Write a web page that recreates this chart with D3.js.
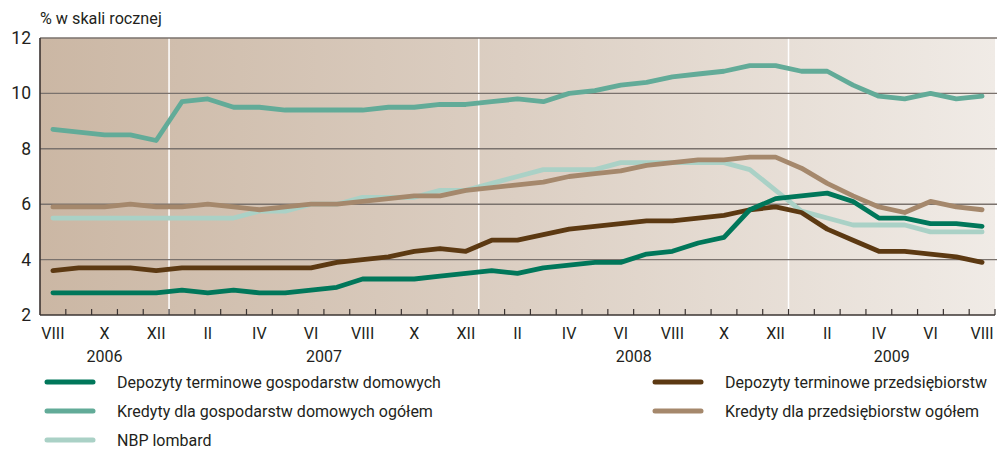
<!DOCTYPE html>
<html><head><meta charset="utf-8">
<script src="https://cdn.jsdelivr.net/npm/d3@7"></script>
<style>
body{margin:0;background:#fff;}
text{font-family:Roboto,"Open Sans",sans-serif;fill:#231f20;}
</style></head>
<body><svg id="c" width="998" height="449"></svg>
<script>
const months = ["VIII","IX","X","XI","XII",
 "I","II","III","IV","V","VI","VII","VIII","IX","X","XI","XII",
 "I","II","III","IV","V","VI","VII","VIII","IX","X","XI","XII",
 "I","II","III","IV","V","VI","VII","VIII"];
const years = [{label:"2006",from:0,to:4},{label:"2007",from:5,to:16},{label:"2008",from:17,to:28},{label:"2009",from:29,to:36}];
const yTicks = [2,4,6,8,10,12];

const depGosp = [2.8,2.8,2.8,2.8,2.8, 2.9,2.8,2.9,2.8,2.8,2.9,3.0,3.3,3.3,3.3,3.4,3.5, 3.6,3.5,3.7,3.8,3.9,3.9,4.2,4.3,4.6,4.8,5.8,6.2, 6.3,6.4,6.1,5.5,5.5,5.3,5.3,5.2];
const kredGosp = [8.7,8.6,8.5,8.5,8.3, 9.7,9.8,9.5,9.5,9.4,9.4,9.4,9.4,9.5,9.5,9.6,9.6, 9.7,9.8,9.7,10.0,10.1,10.3,10.4,10.6,10.7,10.8,11.0,11.0, 10.8,10.8,10.3,9.9,9.8,10.0,9.8,9.9];
const lombard = [5.5,5.5,5.5,5.5,5.5, 5.5,5.5,5.5,5.75,5.75,6.0,6.0,6.25,6.25,6.25,6.5,6.5, 6.75,7.0,7.25,7.25,7.25,7.5,7.5,7.5,7.5,7.5,7.25,6.5, 5.75,5.5,5.25,5.25,5.25,5.0,5.0,5.0];
const depPrz = [3.6,3.7,3.7,3.7,3.6, 3.7,3.7,3.7,3.7,3.7,3.7,3.9,4.0,4.1,4.3,4.4,4.3, 4.7,4.7,4.9,5.1,5.2,5.3,5.4,5.4,5.5,5.6,5.8,5.9, 5.7,5.1,4.7,4.3,4.3,4.2,4.1,3.9];
const kredPrz = [5.9,5.9,5.9,6.0,5.9, 5.9,6.0,5.9,5.8,5.9,6.0,6.0,6.1,6.2,6.3,6.3,6.5, 6.6,6.7,6.8,7.0,7.1,7.2,7.4,7.5,7.6,7.6,7.7,7.7, 7.3,6.75,6.3,5.9,5.7,6.1,5.9,5.8];

const seriesNames = ["Depozyty terminowe gospodarstw domowych","Kredyty dla gospodarstw domowych ogółem","NBP lombard","Depozyty terminowe przedsiębiorstw","Kredyty dla przedsiębiorstw ogółem"];
const seriesData = [depGosp,kredGosp,lombard,depPrz,kredPrz];
const colors = ["#00775a","#62ab98","#aad1c6","#5c3912","#a5886c"];
const drawOrder = [2,4,3,0,1];

const svg = d3.select("#c");
const L=40,R=995,T=38,B=315;
const x = d3.scaleBand().domain(d3.range(months.length)).range([L,R]).padding(0);
const y = d3.scaleLinear().domain([2,12]).range([B,T]);
const cx = i => x(i)+x.bandwidth()/2;

const defs = svg.append("defs");
const g = defs.append("linearGradient").attr("id","bg").attr("x1","0").attr("x2","1").attr("y1","0").attr("y2","0");
g.append("stop").attr("offset","0").attr("stop-color","#cbb7a4");
g.append("stop").attr("offset","0.5").attr("stop-color","#dccfc3");
g.append("stop").attr("offset","1").attr("stop-color","#f0ebe6");
svg.append("rect").attr("x",L).attr("y",T).attr("width",R-L).attr("height",B-T).attr("fill","url(#bg)");

// year separators
years.slice(1).forEach(yr=>{
  svg.append("line").attr("x1",x(yr.from)).attr("x2",x(yr.from)).attr("y1",T).attr("y2",B)
    .attr("stroke","#fff").attr("stroke-width",1.5);
});
// gridlines
svg.append("g").selectAll("line").data(yTicks.filter(v=>v>2)).join("line")
  .attr("x1",L).attr("x2",R+2).attr("y1",d=>y(d)).attr("y2",d=>y(d))
  .attr("stroke","#7a726d").attr("stroke-width",1.4);

// y labels
svg.append("g").selectAll("text").data(yTicks).join("text")
  .attr("x",31).attr("y",d=>y(d)+6).attr("text-anchor","end").attr("font-size",17.5).text(d=>d);
svg.append("text").attr("x",40).attr("y",24).attr("font-size",16.2).text("% w skali rocznej");

// lines
const line = d3.line().x((d,i)=>cx(i)).y(d=>y(d));
drawOrder.forEach(k=>{
  svg.append("path").datum(seriesData[k]).attr("d",line).attr("fill","none")
    .attr("stroke",colors[k]).attr("stroke-width",4.8).attr("stroke-linejoin","round").attr("stroke-linecap","round");
});

// axes
svg.append("line").attr("x1",L).attr("x2",L).attr("y1",T).attr("y2",B).attr("stroke","#3b3432").attr("stroke-width",1.6);
svg.append("line").attr("x1",L).attr("x2",R).attr("y1",B).attr("y2",B).attr("stroke","#3b3432").attr("stroke-width",1.6);
const bounds = d3.range(1,months.length+1).map(i=> i<months.length ? x(i) : R);
svg.append("g").selectAll("line").data(bounds).join("line")
  .attr("x1",d=>d).attr("x2",d=>d).attr("y1",B).attr("y2",B-6).attr("stroke","#3b3432").attr("stroke-width",1.2);

// month labels
svg.append("g").selectAll("text").data(months.map((m,i)=>({m,i})).filter(d=>d.i%2===0)).join("text")
  .attr("x",d=>cx(d.i)).attr("y",339).attr("text-anchor","middle").attr("font-size",16).text(d=>d.m);
svg.append("g").selectAll("text").data(years).join("text")
  .attr("x",d=>(x(d.from)+(d.to===months.length-1?R:x(d.to+1)))/2).attr("y",362).attr("text-anchor","middle").attr("font-size",16).text(d=>d.label);

// legend
const legPos = [[45,382],[45,411],[45,440],[653,382],[653,411]];
seriesNames.forEach((n,k)=>{
  const [lx,ly]=legPos[k];
  svg.append("line").attr("x1",lx+2).attr("x2",lx+48).attr("y1",ly).attr("y2",ly)
    .attr("stroke",colors[k]).attr("stroke-width",5).attr("stroke-linecap","round");
  svg.append("text").attr("x",lx+72).attr("y",ly+6).attr("font-size",16).text(n);
});
</script></body></html>
